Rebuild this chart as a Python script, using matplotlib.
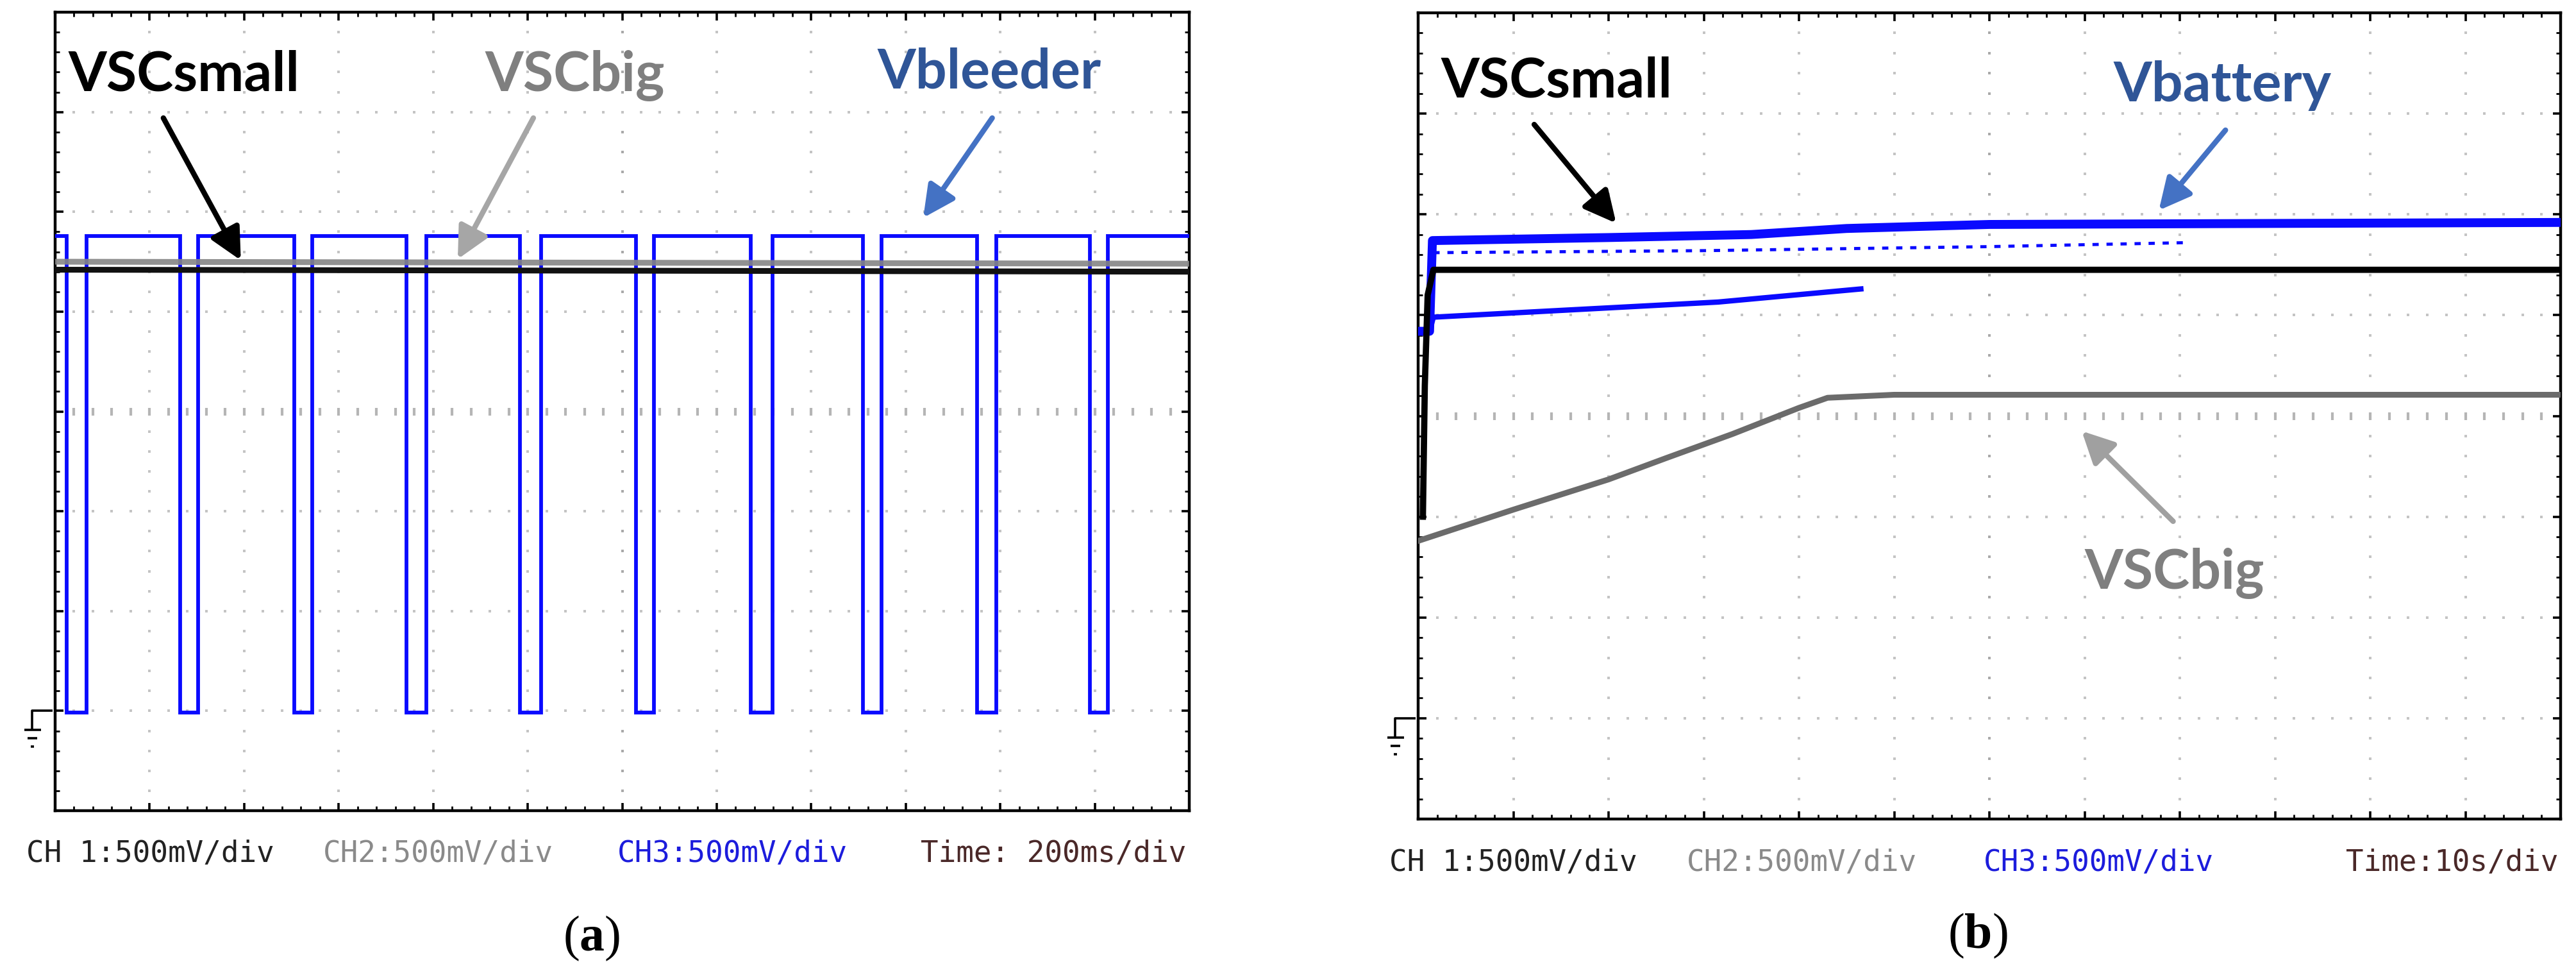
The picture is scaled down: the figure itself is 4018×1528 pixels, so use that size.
import matplotlib
matplotlib.use("Agg")
import matplotlib.pyplot as plt
import matplotlib.transforms as mtransforms
import numpy as np

# ---- panel (a): Time 200 ms/div, 500 mV/div, ground marker one division above bottom
A_PULSE_START_MS = [24, 265, 506, 743, 984, 1229, 1472, 1709, 1951, 2190]
A_PULSE_END_MS = [66, 303, 544, 786, 1028, 1267, 1518, 1749, 1992, 2228]
A_BLEEDER_HIGH_V = 2.38
A_BLEEDER_LOW_V = -0.01
A_FLAT_T_MS = [0, 2400]
A_VSC_SMALL_V = [2.21, 2.20]
A_VSC_BIG_V = [2.25, 2.24]

# ---- panel (b): Time 10 s/div, 500 mV/div
B_SMALL_T_S = [0.5, 0.7, 1.0, 1.6, 120]
B_SMALL_V = [1.00, 1.65, 2.10, 2.225, 2.225]
B_BIG_T_S = [0, 10, 20, 26, 33, 40, 43, 50, 120]
B_BIG_V = [0.88, 1.035, 1.185, 1.29, 1.41, 1.54, 1.59, 1.605, 1.605]
B_BATT_T_S = [0.3, 1.2, 1.5, 20, 35, 45, 60, 120]
B_BATT_V = [1.92, 1.92, 2.37, 2.385, 2.40, 2.43, 2.45, 2.46]
B_BATT_LOW_T_S = [1.2, 1.6, 31.5, 46.5]
B_BATT_LOW_V = [1.92, 1.99, 2.065, 2.13]
B_BATT_MID_T_S = [1.6, 30, 60, 81]
B_BATT_MID_V = [2.31, 2.32, 2.34, 2.36]

CHANNEL_LABELS = ["CH 1:500mV/div", "CH2:500mV/div", "CH3:500mV/div"]
TIME_LABELS = ["Time: 200ms/div", "Time:10s/div"]

W, H = 4018, 1528
plt.rcParams["mathtext.fontset"] = "custom"
plt.rcParams["mathtext.rm"] = "Liberation Serif"
plt.rcParams["mathtext.bf"] = "Liberation Serif:bold"

fig = plt.figure(figsize=(W / 100, H / 100), dpi=100)
fig.patch.set_facecolor("white")


def px_axes(left, top, right, bottom):
    return fig.add_axes([left / W, 1 - bottom / H, (right - left) / W, (bottom - top) / H])


def scope_frame(ax, x_div, n_x=12, y_div=0.5, y_min=-0.5, n_y=8):
    ax.set_xlim(0, x_div * n_x)
    ax.set_ylim(y_min, y_min + y_div * n_y)
    ax.set_xticks(np.arange(0, n_x + 1) * x_div)
    ax.set_xticks(np.arange(0, 5 * n_x + 1) * x_div / 5, minor=True)
    ax.set_yticks(y_min + np.arange(0, n_y + 1) * y_div)
    ax.set_yticks(y_min + np.arange(0, 5 * n_y + 1) * y_div / 5, minor=True)
    ax.tick_params(which="both", direction="in", top=True, right=True,
                   labelbottom=False, labelleft=False, color="black")
    ax.tick_params(which="major", length=9, width=2.6)
    ax.tick_params(which="minor", length=5, width=2.0)
    for sp in ax.spines.values():
        sp.set_linewidth(3.2)

    # dotted graticule
    xs_major = x_div * np.arange(1, n_x)
    ys_major = y_min + y_div * np.arange(1, n_y)
    xs_minor = x_div * np.arange(1, 5 * n_x) / 5
    ys_minor = y_min + y_div * np.arange(1, 5 * n_y) / 5
    for i, x in enumerate(xs_major, start=1):
        centre = i == n_x // 2
        ax.plot(np.full_like(ys_minor, x), ys_minor, ls="none", marker="s",
                ms=3.4 if centre else 2.6, color="#a9a9a9" if centre else "#c4c4c4",
                mew=0, zorder=1)
    for j, y in enumerate(ys_major, start=1):
        centre = j == n_y // 2
        if centre:
            ax.plot(xs_minor, np.full_like(xs_minor, y), ls="none", marker="|",
                    ms=9, mew=3, color="#b5b5b5", zorder=1)
        else:
            ax.plot(xs_minor, np.full_like(xs_minor, y), ls="none", marker="s",
                    ms=2.6, color="#c4c4c4", mew=0, zorder=1)

    # ground marker on the left of the frame
    tr = mtransforms.blended_transform_factory(ax.transAxes, ax.transData)
    w_ax = ax.get_position().width * W
    h_v = (ax.get_position().height * H) / (y_div * n_y)
    dx = lambda p: p / w_ax
    dv = lambda p: p / h_v
    xs = -dx(36)
    kw = dict(transform=tr, clip_on=False, color="black", lw=2.6, solid_capstyle="butt")
    ax.plot([-dx(4), xs, xs], [0, 0, -dv(30)], **kw)
    ax.plot([xs - dx(12), xs + dx(14)], [-dv(30), -dv(30)], **kw)
    ax.plot([xs - dx(7), xs + dx(8)], [-dv(43), -dv(43)], **kw)
    ax.plot([xs - dx(2), xs + dx(3)], [-dv(56), -dv(56)], **kw)


label_font = dict(family=["Lato", "DejaVu Sans"], fontweight="bold", fontsize=62)
arrow_kw = dict(arrowstyle="-|>,head_length=0.6,head_width=0.3", mutation_scale=50,
                shrinkA=0, shrinkB=0, lw=6)


def label_arrow(ax, text, text_xy, tail, tip, text_color, arrow_color):
    ax.text(*text_xy, text, color=text_color, ha="left", va="baseline", zorder=6, **label_font)
    ax.annotate("", xy=tip, xytext=tail, zorder=6,
                arrowprops=dict(color=arrow_color, **arrow_kw))


# ---------------- panel (a)
ax_a = px_axes(86, 19, 1855, 1264)
scope_frame(ax_a, 200)

t_bl = [0]
v_bl = [A_BLEEDER_HIGH_V]
for s, e in zip(A_PULSE_START_MS, A_PULSE_END_MS):
    t_bl += [s, s, e, e]
    v_bl += [A_BLEEDER_HIGH_V, A_BLEEDER_LOW_V, A_BLEEDER_LOW_V, A_BLEEDER_HIGH_V]
t_bl.append(2400)
v_bl.append(A_BLEEDER_HIGH_V)
ax_a.plot(t_bl, v_bl, color="#0a0aff", lw=4.2, zorder=3, solid_joinstyle="miter")
ax_a.plot(A_FLAT_T_MS, A_VSC_SMALL_V, color="#111111", lw=6.5, zorder=4)
ax_a.plot(A_FLAT_T_MS, A_VSC_BIG_V, color="#858585", lw=6.5, zorder=4, alpha=0.9)

label_arrow(ax_a, "VSCsmall", (28, 3.105), (229, 2.97), (393, 2.257), "black", "black")
label_arrow(ax_a, "VSCbig", (910, 3.105), (1012, 2.97), (852, 2.263), "#7f7f7f", "#a6a6a6")
label_arrow(ax_a, "Vbleeder", (1740, 3.118), (1983, 2.97), (1837, 2.47), "#2f5597", "#4472c4")

# ---------------- panel (b)
ax_b = px_axes(2212, 20, 3994, 1277)
scope_frame(ax_b, 10)

ax_b.plot(B_BATT_T_S, B_BATT_V, color="#0a0aff", lw=10, zorder=3)
ax_b.plot(B_BATT_LOW_T_S, B_BATT_LOW_V, color="#0a0aff", lw=6, zorder=3)
ax_b.plot(B_BATT_MID_T_S, B_BATT_MID_V, color="#0a0aff", lw=3.5, ls=(0, (2, 2.5)), zorder=3)
ax_b.plot(B_SMALL_T_S, B_SMALL_V, color="black", lw=7, zorder=4)
ax_b.plot(B_BIG_T_S, B_BIG_V, color="#6b6b6b", lw=6.5, zorder=4)

label_arrow(ax_b, "VSCsmall", (2.4, 3.08), (12.19, 2.946), (20.8, 2.456), "black", "black")
label_arrow(ax_b, "Vbattery", (73.0, 3.061), (84.8, 2.918), (77.8, 2.52), "#2f5597", "#4472c4")
label_arrow(ax_b, "VSCbig", (70.0, 0.642), (79.3, 0.977), (69.7, 1.425), "#7f7f7f", "#a0a0a0")

# ---------------- scope status lines and captions
mono = dict(family="DejaVu Sans Mono", fontsize=33, va="center")
ch_colors = ["#222222", "#8a8a8a", "#1c1cdc"]
time_color = "#4a2828"
for lefts, y, t_right, t_label in [((41, 504, 963), 1331, 1850, TIME_LABELS[0]),
                                   ((2167, 2631, 3094), 1345, 3990, TIME_LABELS[1])]:
    for x, lab, c in zip(lefts, CHANNEL_LABELS, ch_colors):
        fig.text(x / W, 1 - y / H, lab, color=c, ha="left", **mono)
    fig.text(t_right / W, 1 - y / H, t_label, color=time_color, ha="right", **mono)

cap = dict(family="Liberation Serif", fontsize=56, ha="center", va="center", color="black")
fig.text(923 / W, 1 - 1463 / H, r"($\mathbf{a}$)", **cap)
fig.text(3085 / W, 1 - 1459 / H, r"($\mathbf{b}$)", **cap)

fig.savefig("out.png", dpi=100, facecolor="white")
